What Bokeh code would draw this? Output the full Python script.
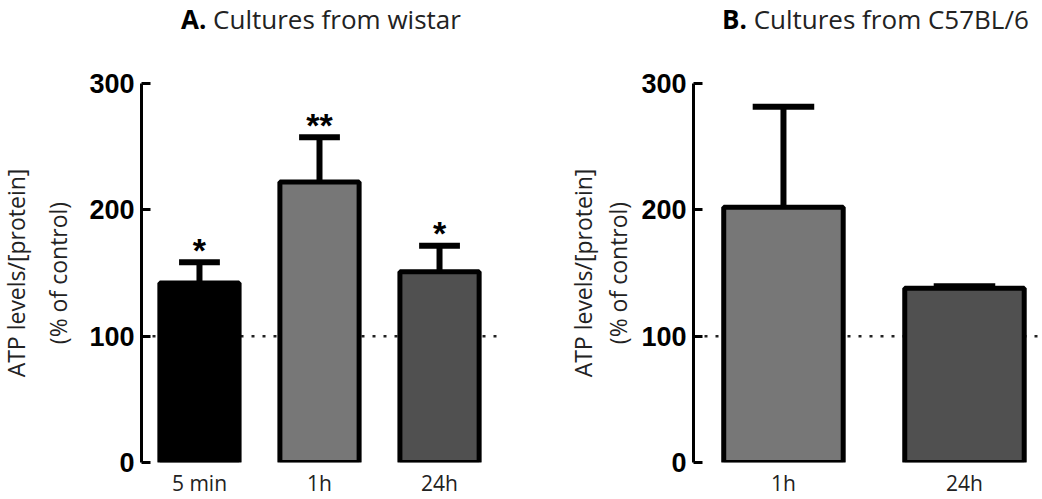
from bokeh.plotting import figure
from bokeh.models import Range1d, FixedTicker, Span, Title, Div
from bokeh.layouts import row, column
from bokeh.embed import file_html
from bokeh.resources import INLINE
from bokeh.core.properties import value

# ---------------- data ----------------
a_categories = ["5 min", "1h", "24h"]
a_means = [142, 222, 151]
a_err_tops = [158.5, 257.5, 171.5]
a_stars = ["*", "**", "*"]
a_colors = ["#000000", "#777777", "#505050"]

b_categories = ["1h", "24h"]
b_means = [202, 138]
b_err_tops = [281.5, 139.5]
b_stars = ["", ""]
b_colors = ["#777777", "#505050"]

y_ticks = [0, 100, 200, 300]
control_level = 100
y_label_lines = ["ATP levels/[protein]", "(% of control)"]

TXT_FONT = "Open Sans"
NUM_FONT = "Liberation Sans"
HEAD_H = 40


def make_panel(cats, means, errs, colors, stars, width, x_range, border_left,
               border_top, border_bottom, border_right, ylab_standoffs):
    p = figure(width=width, height=499 - HEAD_H, output_backend="svg", toolbar_location=None,
               x_range=Range1d(*x_range), y_range=Range1d(0, 300),
               min_border_left=border_left, min_border_top=border_top - HEAD_H,
               min_border_bottom=border_bottom, min_border_right=border_right,
               margin=0)
    p.outline_line_color = None
    p.grid.visible = False
    p.background_fill_color = "white"
    p.border_fill_color = "white"

    xs = list(range(len(cats)))

    p.add_layout(Span(location=control_level, dimension="width", line_color="#222222",
                      line_width=2.5, line_dash="3 8", level="underlay"))

    p.segment(x0=xs, y0=means, x1=xs, y1=errs, line_color="black", line_width=6)
    p.segment(x0=[x - 0.17 for x in xs], y0=errs, x1=[x + 0.17 for x in xs], y1=errs,
              line_color="black", line_width=6)
    p.vbar(x=xs, top=means, bottom=0, width=0.66, fill_color=colors,
           line_color="black", line_width=5)
    p.text(x=xs, y=[e + 10 for e in errs], text=stars, text_font=value(NUM_FONT),
           text_font_style="bold", text_font_size="34px", text_align="center",
           text_baseline="alphabetic", text_color="black")

    # y axis
    ya = p.yaxis[0]
    ya.ticker = FixedTicker(ticks=y_ticks)
    ya.axis_line_width = 3
    ya.axis_line_color = "black"
    ya.major_tick_line_width = 3
    ya.major_tick_line_color = "black"
    ya.major_tick_in = 9
    ya.major_tick_out = 0
    ya.minor_tick_line_color = None
    ya.major_label_text_font = NUM_FONT
    ya.major_label_text_font_style = "bold"
    ya.major_label_text_font_size = "27px"
    ya.major_label_text_color = "black"
    ya.major_label_standoff = 7

    # x axis
    xa = p.xaxis[0]
    xa.ticker = FixedTicker(ticks=xs)
    xa.major_label_overrides = {i: c for i, c in enumerate(cats)}
    xa.axis_line_color = None
    xa.major_tick_line_color = None
    xa.minor_tick_line_color = None
    xa.major_label_text_font = TXT_FONT
    xa.major_label_text_font_size = "21px"
    xa.major_label_text_color = "#222222"
    xa.major_label_standoff = 0

    # y label, two lines (second line nearest the axis)
    for txt, so in ((y_label_lines[1], ylab_standoffs[1]), (y_label_lines[0], ylab_standoffs[0])):
        p.add_layout(Title(text=txt, align="center", text_font=TXT_FONT,
                           text_font_size="23px", text_font_style="normal",
                           text_color="#222222", standoff=so), "left")
    return p


def head(bold, rest, width, left):
    html = ('<div style="margin-left:%dpx; padding-top:4px; font-family:\'Open Sans\'; '
            'font-size:26px; line-height:30px; color:#222222; white-space:nowrap;">'
            '<b style="color:#000000;">%s</b> %s</div>' % (left, bold, rest))
    return Div(text=html, width=width, height=HEAD_H, margin=0)


pa = make_panel(a_categories, a_means, a_err_tops, a_colors, a_stars, 520,
                (-0.483, 2.508), 141, 81, 36, 20, (-8, 25))
pb = make_panel(b_categories, b_means, b_err_tops, b_colors, b_stars, 522,
                (-0.497, 1.431), 173, 83, 33, 0, (-6, 9))

ha = head("A.", "Cultures from wistar", 520, 181)
hb = head("B.", "Cultures from C57BL/6", 522, 202)

layout = column(row(ha, hb, margin=0), row(pa, pb, margin=0), margin=0)
open("out.html", "w").write(file_html(layout, INLINE))
